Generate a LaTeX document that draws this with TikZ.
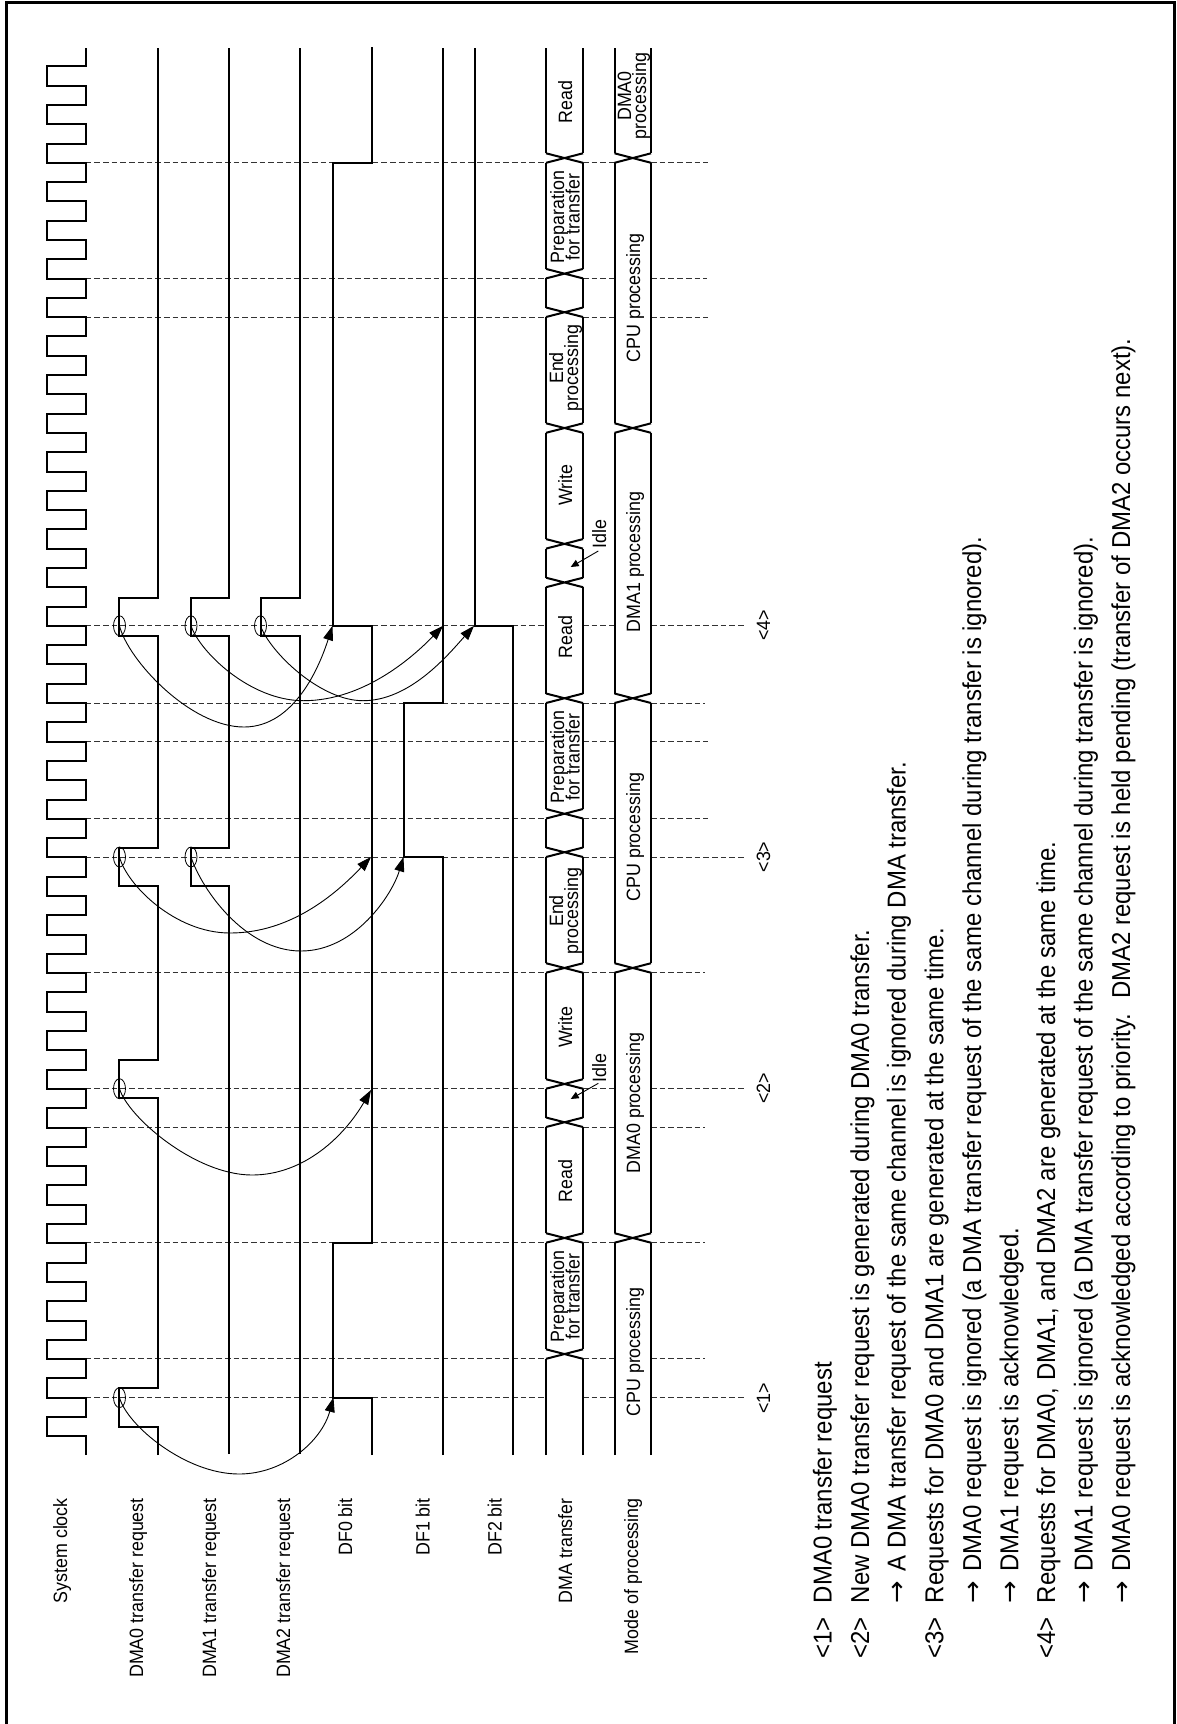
\documentclass[tikz,border=0pt]{standalone}
\usepackage{fontspec}
\setmainfont{Liberation Sans}[FakeStretch=0.925]
\newfontfamily\arrowfont{DejaVu Sans}[FakeStretch=1.05]
\usetikzlibrary{arrows.meta,shapes.geometric}
\newcommand{\notearrow}{\makebox[31.9pt][l]{\arrowfont\fontsize{25.6}{26}\selectfont →}}
\tikzset{
  wave/.style={line width=2pt,line join=miter,black},
  grid/.style={line width=1pt,dash pattern=on 5.7pt off 3pt,black!80},
  curve/.style={line width=0.9pt,-{Triangle[length=14.5pt,width=10pt]}},
  pointer/.style={line width=0.9pt,-{Triangle[length=8pt,width=7pt]}},
  sel/.style={draw,shape=ellipse,line width=0.8pt,minimum width=12pt,minimum height=20pt,inner sep=0pt},
  lab/.style={rotate=90,anchor=base east,inner sep=0pt,font=\fontsize{19.3}{20}\selectfont},
  ctr/.style={rotate=90,anchor=base,inner sep=0pt,font=\fontsize{19.3}{20}\selectfont},
  note/.style={rotate=90,anchor=base west,inner sep=0pt,font=\fontsize{25.9}{26}\selectfont},
}
\begin{document}
\begin{tikzpicture}[x=1pt,y=-1pt]
\useasboundingbox (0,0) rectangle (1176,1724);
\draw[line width=3.2pt,line join=miter] (6.3,1724) -- (6.3,2.6) -- (1174.8,2.6) -- (1174.8,1724);
% grid lines
\foreach \t/\e in {162.8/708,278.4/707,317/708,625.8/745,703/705,741.5/708,818.5/708,857/745,972.7/705,1088.7/746,1127/705,1242.7/705,1358.8/705,1397.6/746}{
  \draw[grid] (85.6,\t) -- (546,\t);
  \draw[grid] (583,\t) -- (614.5,\t);
  \draw[grid] (651,\t) -- (\e,\t);
}
% system clock
\draw[wave] (85.6,1455) foreach \k in {33,32,...,-2}{
  -- (85.6,162.8+38.59*\k) -- (46.5,162.8+38.59*\k) -- (46.5,143.5+38.59*\k) -- (85.6,143.5+38.59*\k)
} -- (85.6,48);
% request lines
\draw[wave] (157.5,1455) -- (157.5,1426.7) -- (118.5,1426.7) -- (118.5,1387.8) -- (157.5,1387.8)
  -- (157.5,1098) -- (118.5,1098) -- (118.5,1060) -- (157.5,1060)
  -- (157.5,886) -- (118.5,886) -- (118.5,848) -- (157.5,848)
  -- (157.5,635.6) -- (118.5,635.6) -- (118.5,597.5) -- (157.5,597.5) -- (157.5,48);
\draw[wave] (229,1454) -- (229,886) -- (190.5,886) -- (190.5,848) -- (229,848)
  -- (229,635.6) -- (190.5,635.6) -- (190.5,597.5) -- (229,597.5) -- (229,48);
\draw[wave] (299.5,1454) -- (299.5,635.6) -- (260.5,635.6) -- (260.5,597.5) -- (299.5,597.5) -- (299.5,48);
% flags
\draw[wave] (371.5,1455) -- (371.5,1397.6) -- (332.5,1397.6) -- (332.5,1242.7) -- (371.5,1242.7)
  -- (371.5,625.8) -- (332.5,625.8) -- (332.5,162.8) -- (371.5,162.8) -- (371.5,46.5);
\draw[wave] (443,1455) -- (443,857) -- (403.5,857) -- (403.5,703) -- (443,703) -- (443,48);
\draw[wave] (513,1455) -- (513,625.8) -- (474.5,625.8) -- (474.5,48);
% DMA transfer bus
\foreach \xa/\xb in {546/583}{
  \draw[wave] (\xa,1455) -- (\xa,1358.8) (\xb,1455) -- (\xb,1358.8);
  \foreach \t in {1358.8,1242.7,1127,1088.7,972.7,857,818.5,703,587.2,548.6,432.8,317,278.4,162.8}{
    \draw[wave] (\xa,\t) -- (\xb,\t-9.5) (\xb,\t) -- (\xa,\t-9.5);
  }
  \foreach \a/\b in {1358.8/1242.7,1242.7/1127,1127/1088.7,1088.7/972.7,972.7/857,857/818.5,818.5/703,703/587.2,587.2/548.6,548.6/432.8,432.8/317,317/278.4,278.4/162.8,162.8/48}{
    \draw[wave] (\xa,\a-9.5) -- (\xa,\b) (\xb,\a-9.5) -- (\xb,\b);
  }
}
% mode of processing bus
\foreach \xa/\xb in {614.5/651}{
  \foreach \t in {1242.7,972.7,703,432.8,162.8}{
    \draw[wave] (\xa,\t) -- (\xb,\t-9.5) (\xb,\t) -- (\xa,\t-9.5);
  }
  \draw[wave] (\xa,1455) -- (\xa,1242.7) (\xb,1455) -- (\xb,1242.7);
  \foreach \a/\b in {1242.7/972.7,972.7/703,703/432.8,432.8/162.8,162.8/48}{
    \draw[wave] (\xa,\a-9.5) -- (\xa,\b) (\xb,\a-9.5) -- (\xb,\b);
  }
}
% row labels
\node[lab] (lclk) at (67,1498) {System clock};
\node[lab] (lr0) at (143,1498) {DMA0 transfer request};
\node[lab] (lr1) at (216,1498) {DMA1 transfer request};
\node[lab] (lr2) at (290,1498) {DMA2 transfer request};
\node[lab] (lf0) at (352,1498) {DF0 bit};
\node[lab] (lf1) at (429.5,1498) {DF1 bit};
\node[lab] (lf2) at (501.5,1498) {DF2 bit};
\node[lab] (ldma) at (572,1498) {DMA transfer};
\node[lab] (lmode) at (638,1498) {Mode of processing};
% bus labels, DMA transfer
\node[ctr] (p1a) at (564,1296.5) {Preparation};
\node[ctr] (p1b) at (579.5,1296.5) {for transfer};
\node[ctr] (rd1) at (572,1181) {Read};
\node[ctr] (wr1) at (572,1027) {Write};
\node[ctr] (en1a) at (563,911) {End};
\node[ctr] (en1b) at (578,911) {processing};
\node[ctr] (p2a) at (564,757) {Preparation};
\node[ctr] (p2b) at (579.5,757) {for transfer};
\node[ctr] (rd2) at (572,637) {Read};
\node[ctr] (wr2) at (572,485) {Write};
\node[ctr] (en2a) at (563,368) {End};
\node[ctr] (en2b) at (578,368) {processing};
\node[ctr] (p3a) at (564,217) {Preparation};
\node[ctr] (p3b) at (579.5,217) {for transfer};
\node[ctr] (rd3) at (572,102) {Read};
% bus labels, mode
\node[ctr] (m1) at (640,1352) {CPU processing};
\node[ctr] (m2) at (640,1103) {DMA0 processing};
\node[ctr] (m3) at (640,837) {CPU processing};
\node[ctr] (m4) at (640,562) {DMA1 processing};
\node[ctr] (m5) at (640,298) {CPU processing};
\node[ctr] (m6a) at (631,96) {DMA0};
\node[ctr] (m6b) at (646,96) {processing};
% idle pointers
\node[ctr] (id1) at (606,1068) {Idle};
\coordinate (idt1) at (570.7,1099);
\draw[pointer] (598.3,1083.3) -- (idt1);
\node[ctr] (id2) at (606,534) {Idle};
\coordinate (idt2) at (570.7,567);
\draw[pointer] (598.3,551) -- (idt2);
% step labels
\node[ctr] (s1) at (770,1398.5) {<1>};
\node[ctr] (s2) at (770,1088.5) {<2>};
\node[ctr] (s3) at (770,857) {<3>};
\node[ctr] (s4) at (770,625.5) {<4>};
% selection ellipses
\node[sel] (e1) at (119.5,1397.6) {};
\node[sel] (e2) at (119.5,1088.7) {};
\node[sel] (e3) at (119.5,857) {};
\node[sel] (e4) at (191,857) {};
\node[sel] (e5) at (119.5,625.8) {};
\node[sel] (e6) at (191,625.8) {};
\node[sel] (e7) at (260.5,625.8) {};
% curved connectors
\coordinate (t1) at (333.5,1397.5);
\coordinate (t2) at (371,1090);
\coordinate (t3) at (371,857);
\coordinate (t4) at (403.5,857);
\coordinate (t5) at (332.5,625.8);
\coordinate (t6) at (443,625.8);
\coordinate (t7) at (474,625.8);
\draw[curve] (e1.center) .. controls (127,1425) and (185,1474) .. (239,1474) .. controls (285,1474) and (322,1440) .. (t1);
\draw[curve] (e2.center) .. controls (128,1117) and (195,1175) .. (252,1175) .. controls (305,1175) and (345,1135) .. (t2);
\draw[curve] (e3.center) .. controls (127,885) and (175,933) .. (230,933) .. controls (290,933) and (335,895) .. (t3);
\draw[curve] (e4.center) .. controls (202,890) and (245,951) .. (301,951) .. controls (355,951) and (392,895) .. (t4);
\draw[curve] (e5.center) .. controls (128,660) and (190,727) .. (244,727) .. controls (295,727) and (320,665) .. (t5);
\draw[curve] (e6.center) .. controls (200,652) and (250,700.7) .. (303.5,700.7) .. controls (365,700.7) and (415,655) .. (t6);
\draw[curve] (e7.center) .. controls (270,652) and (320,700.7) .. (363,700.7) .. controls (410,700.7) and (448,655) .. (t7);
% notes
\node[note] (n1k) at (831.7,1659) {<1>};
\node[note] (n1) at (831.7,1603.4) {DMA0 transfer request};
\node[note] (n2k) at (869,1659) {<2>};
\node[note] (n2) at (869,1603.4) {New DMA0 transfer request is generated during DMA0 transfer.};
\node[note] (n2a) at (905.7,1603.4) {\notearrow A DMA transfer request of the same channel is ignored during DMA transfer.};
\node[note] (n3k) at (943.3,1659) {<3>};
\node[note] (n3) at (943.3,1603.4) {Requests for DMA0 and DMA1 are generated at the same time.};
\node[note] (n3a) at (981,1603.4) {\notearrow DMA0 request is ignored (a DMA transfer request of the same channel during transfer is ignored).};
\node[note] (n3b) at (1018.3,1603.4) {\notearrow DMA1 request is acknowledged.};
\node[note] (n4k) at (1055,1659) {<4>};
\node[note] (n4) at (1055,1603.4) {Requests for DMA0, DMA1, and DMA2 are generated at the same time.};
\node[note] (n4a) at (1092.7,1603.4) {\notearrow DMA1 request is ignored (a DMA transfer request of the same channel during transfer is ignored).};
\node[note] (n4b) at (1130,1603.4) {\notearrow DMA0 request is acknowledged according to priority.\hspace{15pt}DMA2 request is held pending (transfer of DMA2 occurs next).};
\end{tikzpicture}
\end{document}
